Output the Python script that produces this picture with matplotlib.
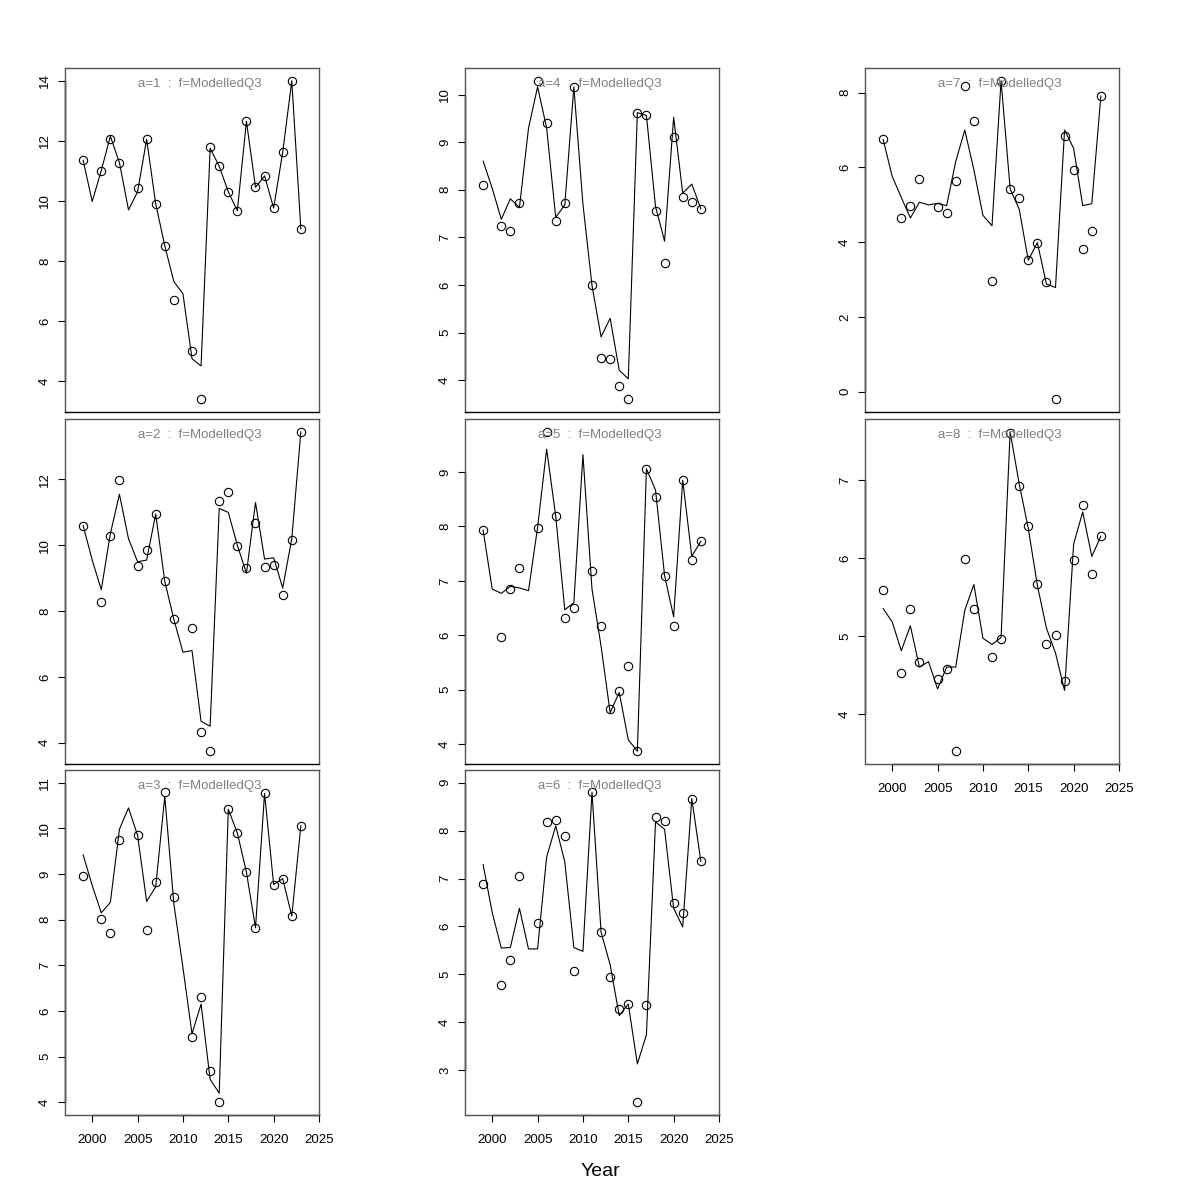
import numpy as np
import matplotlib
matplotlib.use("Agg")
import matplotlib.pyplot as plt

plt.rcParams['font.family'] = ['Liberation Sans', 'DejaVu Sans']

nan = np.nan
years = list(range(1999, 2024))

# observed (circles) and modelled (line) per age a
obs_a1 = [11.35, nan, 11.01, 12.05, 11.26, nan, 10.42, 12.05, 9.91, 8.51, 6.71, nan, 5.0, 3.39, 11.79, 11.15, 10.31, 9.67, 12.65, 10.45, 10.83, 9.76, 11.62, 14.0, 9.06]
fit_a1 = [11.35, 9.98, 11.01, 12.15, 11.27, 9.70, 10.3, 12.05, 9.9, 8.5, 7.31, 6.91, 4.74, 4.50, 11.75, 11.15, 10.3, 9.67, 12.65, 10.45, 10.83, 9.76, 11.62, 14.0, 9.06]

obs_a2 = [10.58, nan, 8.27, 10.29, 11.97, nan, 9.36, 9.85, 10.95, 8.91, 7.76, nan, 7.48, 4.32, 3.74, 11.35, 11.62, 9.97, 9.30, 10.67, 9.33, 9.39, 8.48, 10.15, 13.45]
fit_a2 = [10.6, 9.55, 8.65, 10.35, 11.55, 10.2, 9.5, 9.55, 10.95, 8.9, 7.75, 6.75, 6.8, 4.65, 4.5, 11.12, 11.0, 10.0, 9.15, 11.3, 9.58, 9.62, 8.7, 10.2, 13.45]

obs_a3 = [8.96, nan, 8.01, 7.71, 9.75, nan, 9.85, 7.77, 8.82, 10.79, 8.5, nan, 5.44, 6.3, 4.69, 4.0, 10.42, 9.89, 9.04, 7.82, 10.77, 8.77, 8.9, 8.08, 10.06]
fit_a3 = [9.42, 8.75, 8.15, 8.38, 9.98, 10.45, 9.85, 8.4, 8.72, 10.7, 8.35, 6.95, 5.5, 6.15, 4.5, 4.2, 10.42, 9.9, 9.04, 7.82, 10.77, 8.77, 8.9, 8.08, 10.06]

obs_a4 = [8.09, nan, 7.23, 7.13, 7.72, nan, 10.29, 9.41, 7.35, 7.73, 10.16, nan, 5.99, 4.47, 4.45, 3.88, 3.6, 9.62, 9.56, 7.56, 6.46, 9.1, 7.85, 7.75, 7.6]
fit_a4 = [8.6, 8.03, 7.38, 7.81, 7.63, 9.29, 10.16, 9.3, 7.42, 7.68, 10.16, 7.7, 5.99, 4.91, 5.3, 4.21, 4.03, 9.62, 9.56, 7.65, 6.92, 9.52, 7.93, 8.12, 7.6]

obs_a5 = [7.93, nan, 5.96, 6.85, 7.23, nan, 7.98, 9.74, 8.19, 6.31, 6.5, nan, 7.19, 6.18, 4.65, 4.97, 5.43, 3.87, 9.06, 8.55, 7.09, 6.18, 8.85, 7.39, 7.73]
fit_a5 = [7.93, 6.85, 6.77, 6.9, 6.87, 6.82, 7.98, 9.42, 8.19, 6.47, 6.6, 9.32, 6.85, 5.8, 4.58, 4.95, 4.08, 3.87, 9.06, 8.67, 7.1, 6.34, 8.85, 7.45, 7.73]

obs_a6 = [6.88, nan, 4.77, 5.29, 7.06, nan, 6.07, 8.18, 8.22, 7.89, 5.08, nan, 8.8, 5.88, 4.95, 4.28, 4.38, 2.33, 4.35, 8.28, 8.2, 6.49, 6.29, 8.67, 7.36]
fit_a6 = [7.29, 6.29, 5.55, 5.56, 6.38, 5.53, 5.53, 7.45, 8.1, 7.35, 5.56, 5.48, 8.8, 5.88, 5.2, 4.14, 4.38, 3.13, 3.74, 8.18, 8.03, 6.38, 5.99, 8.67, 7.36]

obs_a7 = [6.75, nan, 4.64, 4.97, 5.69, nan, 4.93, 4.78, 5.65, 8.18, 7.23, nan, 2.96, 8.32, 5.43, 5.18, 3.52, 3.99, 2.93, -0.2, 6.84, 5.93, 3.81, 4.3, 7.91]
fit_a7 = [6.75, 5.76, 5.2, 4.65, 5.07, 5.0, 5.04, 4.98, 6.16, 7.0, 5.94, 4.72, 4.44, 8.32, 5.43, 4.88, 3.52, 3.99, 2.88, 2.79, 7.0, 6.51, 4.98, 5.03, 7.91]

obs_a8 = [5.59, nan, 4.53, 5.34, 4.67, nan, 4.45, 4.57, 3.52, 5.99, 5.34, nan, 4.73, 4.96, 7.6, 6.92, 6.41, 5.66, 4.9, 5.01, 4.42, 5.97, 6.68, 5.79, 6.28]
fit_a8 = [5.35, 5.18, 4.81, 5.13, 4.6, 4.67, 4.32, 4.6, 4.6, 5.33, 5.66, 4.97, 4.89, 4.98, 7.62, 6.95, 6.38, 5.65, 5.1, 4.78, 4.3, 6.18, 6.59, 6.02, 6.28]

yticks = {1: [4, 6, 8, 10, 12, 14], 2: [4, 6, 8, 10, 12], 3: [4, 5, 6, 7, 8, 9, 10, 11],
          4: [4, 5, 6, 7, 8, 9, 10], 5: [4, 5, 6, 7, 8, 9], 6: [3, 4, 5, 6, 7, 8, 9],
          7: [0, 2, 4, 6, 8], 8: [4, 5, 6, 7]}
xticks = [2000, 2005, 2010, 2015, 2020, 2025]

panels = {1: (obs_a1, fit_a1), 2: (obs_a2, fit_a2), 3: (obs_a3, fit_a3),
          4: (obs_a4, fit_a4), 5: (obs_a5, fit_a5), 6: (obs_a6, fit_a6),
          7: (obs_a7, fit_a7), 8: (obs_a8, fit_a8)}

fig = plt.figure(figsize=(12, 12), dpi=100)

W, H = 1200.0, 1200.0
col_left = [65, 465, 865]
row_box = [(68, 412), (419, 764), (770, 1115)]
pw = 254

for a, (obs, fit) in panels.items():
    col = (a - 1) // 3
    row = (a - 1) % 3
    top, bot = row_box[row]
    ax = fig.add_axes([col_left[col] / W, 1 - bot / H, pw / W, (bot - top) / H])
    ax.plot(years, fit, color='black', lw=0.8)
    ax.plot(years, obs, linestyle='none', marker='o', mfc='none', mec='black',
            ms=6.0, mew=0.8)
    ax.set_xlim(1997, 2025)
    ax.margins(y=0.04)
    for s in ax.spines.values():
        s.set_color('#555555')
        s.set_linewidth(1.0)
    yt = yticks[a]
    ax.set_yticks(yt)
    ax.set_yticklabels([str(t) for t in yt], rotation=90, va='center')
    ax.tick_params(axis='y', length=5, width=0.8, pad=5, labelsize=9.5)
    # R style axis line over tick range
    ax.plot([1997, 1997], [yt[0], yt[-1]], color='black', lw=1.0, clip_on=False)
    last = (a in (3, 6, 8))
    if last:
        ax.set_xticks(xticks)
        ax.set_xticklabels([str(t) for t in xticks])
        ax.tick_params(axis='x', length=5, width=0.8, pad=9, labelsize=9.5)
        yl = ax.get_ylim()
        ax.plot([2000, 2025], [yl[0], yl[0]], color='black', lw=1.0, clip_on=False)
        ax.set_ylim(yl)
    else:
        ax.set_xticks([])
        ax.spines['bottom'].set_color('black')
    fig.text((col_left[col] + pw / 2 + 8) / W, 1 - (top + 16) / H,
             'a=%d  :  f=ModelledQ3' % a, color='#808080', fontsize=9.5,
             ha='center', va='center')

fig.text(0.5, 1 - 1171 / H, 'Year', fontsize=14, ha='center', va='center')

fig.savefig('out.png', dpi=100)
